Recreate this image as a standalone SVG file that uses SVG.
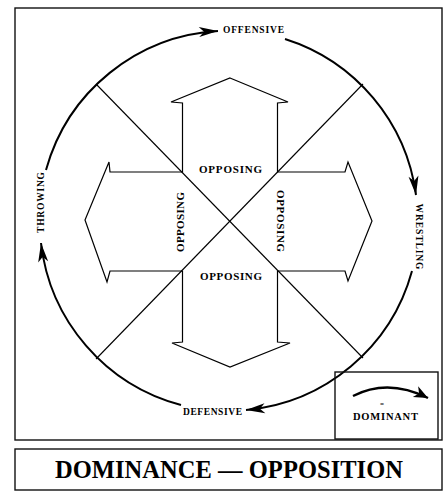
<svg xmlns="http://www.w3.org/2000/svg" width="448" height="493" viewBox="0 0 448 493">
<defs>
<style>
.frame{fill:none;stroke:#111;stroke-width:1.4}
.arc{fill:none;stroke:#000;stroke-width:2}
.diag{stroke:#000;stroke-width:1.1}
.cross{fill:none;stroke:#000;stroke-width:1.2;stroke-linejoin:miter}
.lbl{font-family:"Liberation Serif","Times New Roman",serif;font-weight:bold;fill:#000}
.s{font-size:9.5px}
.m{font-size:11px}
</style>
<marker id="ah" markerUnits="userSpaceOnUse" orient="auto" refX="0" refY="0" markerWidth="20" markerHeight="12" overflow="visible">
<path d="M0,0 L-19,-5 L-14,0 L-19,5 Z" fill="#000"/>
</marker>
<marker id="ahL" markerUnits="userSpaceOnUse" orient="auto" refX="0" refY="0" markerWidth="20" markerHeight="12" overflow="visible">
<path d="M0,0 L-14,-6 L-10,0 L-14,6 Z" fill="#000"/>
</marker>
</defs>
<rect width="448" height="493" fill="#fff"/>
<g id="frame">
<rect class="frame" x="15" y="8" width="427" height="432"/>
</g>
<g id="connectors">
<line class="diag" x1="96" y1="84" x2="363" y2="358"/>
<line class="diag" x1="363" y1="84" x2="96" y2="359"/>
<path class="arc" d="M46,170 A190,190 0 0 1 218,31" marker-end="url(#ah)"/>
<path class="arc" d="M285,39 A190,190 0 0 1 416,195" marker-end="url(#ah)"/>
<path class="arc" d="M412,271 A190,190 0 0 1 246,410" marker-end="url(#ah)"/>
<path class="arc" d="M181,405 A190,190 0 0 1 41,243" marker-end="url(#ah)"/>
</g>
<g id="cross">
<polygon class="cross" points="230,78 288,102 277.5,103 277.5,172 345,172 348,162 372,221 348,281 345,271 277.5,271 277.5,342 290,343 230,367 172,343 182.5,342 182.5,271 110,271 107,282 85,220 109,162 110,172 182.5,172 182.5,103 171,102"/>
</g>
<g id="offensive"><text class="lbl s" x="223" y="32.5" textLength="61" lengthAdjust="spacing">OFFENSIVE</text></g>
<g id="wrestling"><text class="lbl s" transform="translate(416,236.5) rotate(90)" text-anchor="middle" textLength="66" lengthAdjust="spacing">WRESTLING</text></g>
<g id="defensive"><text class="lbl s" x="183" y="415" textLength="59" lengthAdjust="spacing">DEFENSIVE</text></g>
<g id="throwing"><text class="lbl s" transform="translate(43.5,202.5) rotate(-90)" text-anchor="middle" textLength="61" lengthAdjust="spacing">THROWING</text></g>
<g id="opposing-top"><text class="lbl m" x="230.5" y="173" text-anchor="middle" textLength="63" lengthAdjust="spacing">OPPOSING</text></g>
<g id="opposing-bottom"><text class="lbl m" x="231" y="279.5" text-anchor="middle" textLength="62" lengthAdjust="spacing">OPPOSING</text></g>
<g id="opposing-left"><text class="lbl m" transform="translate(183.5,222) rotate(-90)" text-anchor="middle" textLength="60" lengthAdjust="spacing">OPPOSING</text></g>
<g id="opposing-right"><text class="lbl m" transform="translate(277,221) rotate(90)" text-anchor="middle" textLength="62" lengthAdjust="spacing">OPPOSING</text></g>
<g id="legend">
<rect class="frame" x="335" y="372" width="103" height="67"/>
<path d="M353,396 Q388,378 428,398" fill="none" stroke="#000" stroke-width="2.4" marker-end="url(#ahL)"/>
<text class="lbl" x="382" y="406" font-size="7" text-anchor="middle">=</text>
<text class="lbl" x="385.5" y="419.5" font-size="10.5" text-anchor="middle" textLength="65" lengthAdjust="spacing">DOMINANT</text>
</g>
<g id="title">
<rect class="frame" x="15" y="449" width="427" height="41"/>
<text class="lbl" x="229" y="478" font-size="24.5" text-anchor="middle" textLength="348" lengthAdjust="spacing">DOMINANCE — OPPOSITION</text>
</g>
</svg>
